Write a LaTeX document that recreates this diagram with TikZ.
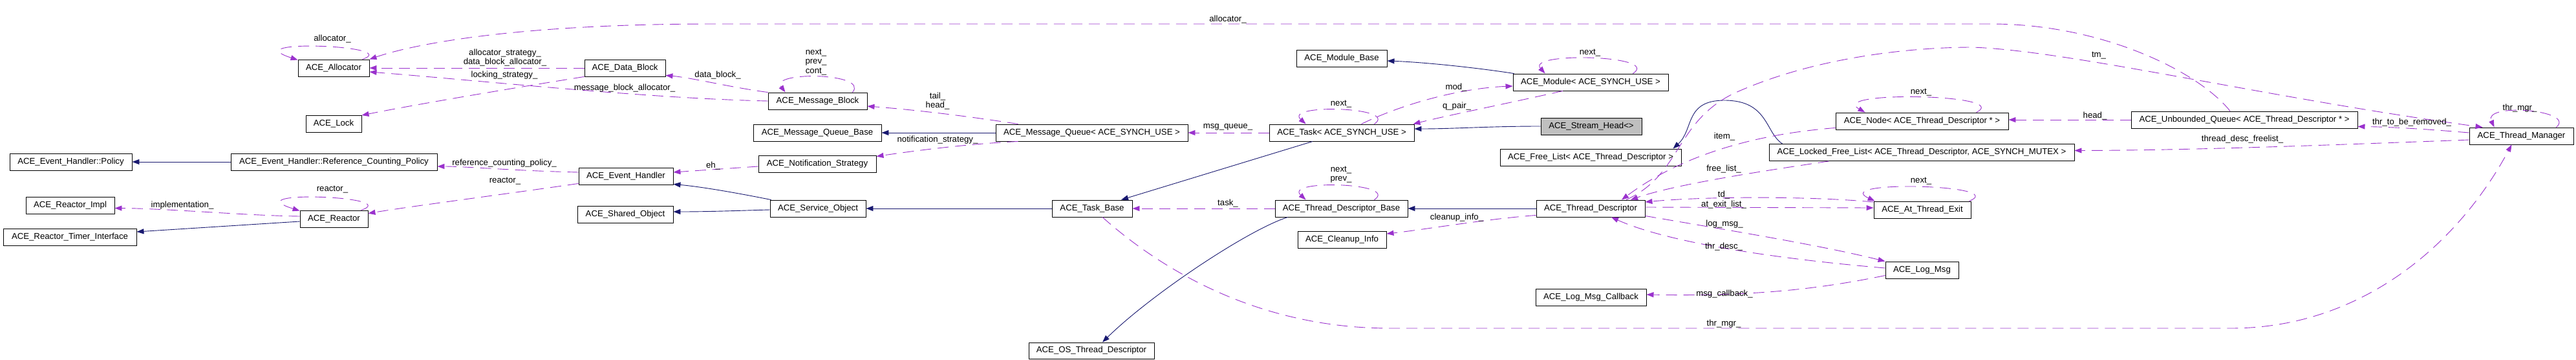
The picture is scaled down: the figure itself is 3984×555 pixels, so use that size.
\documentclass[tikz,border=0pt]{standalone}
\usepackage{fontspec}
\setmainfont{Liberation Sans}
\usetikzlibrary{arrows.meta,calc}
\definecolor{inhcol}{HTML}{191970}
\definecolor{usecol}{HTML}{9A32CD}
\definecolor{hlcol}{HTML}{BFBFBF}
\newcommand{\dfont}{\fontsize{13.2}{14.5}\selectfont}
\begin{document}
\begin{tikzpicture}[x=1pt,y=-1pt,
  box/.style={draw=black, line width=0.9pt, minimum height=26pt, inner sep=0pt, font=\dfont, fill=white},
  lbl/.style={inner sep=0pt, font=\dfont, align=center},
  inhe/.style={draw=inhcol, line width=0.9pt, -{Triangle[length=11pt,width=8pt]}},
  usee/.style={draw=usecol, line width=0.9pt, dash pattern=on 17pt off 10pt, -{Triangle[length=11pt,width=8pt]}}]
\useasboundingbox (0,0) rectangle (3984,555);

% nodes
\node[box, minimum width=110pt] (alloc) at (516,105) {ACE\_Allocator};
\node[box, minimum width=86pt] (lock) at (516,191.5) {ACE\_Lock};
\node[box, minimum width=189pt] (policy) at (109.5,250) {ACE\_Event\_Handler::Policy};
\node[box, minimum width=319pt] (rcp) at (516.5,250) {ACE\_Event\_Handler::Reference\_Counting\_Policy};
\node[box, minimum width=137pt] (rimpl) at (108.5,317.5) {ACE\_Reactor\_Impl};
\node[box, minimum width=206pt] (rti) at (108,366) {ACE\_Reactor\_Timer\_Interface};
\node[box, minimum width=105pt] (reactor) at (516.5,338) {ACE\_Reactor};
\node[box, minimum width=125pt] (dblock) at (966.5,105) {ACE\_Data\_Block};
\node[box, minimum width=146pt] (eh) at (968,272) {ACE\_Event\_Handler};
\node[box, minimum width=148pt] (sho) at (967,331) {ACE\_Shared\_Object};
\node[box, minimum width=153pt] (mblock) at (1264.5,156) {ACE\_Message\_Block};
\node[box, minimum width=198pt] (mqb) at (1264,205) {ACE\_Message\_Queue\_Base};
\node[box, minimum width=182pt] (ns) at (1264,253) {ACE\_Notification\_Strategy};
\node[box, minimum width=148pt] (so) at (1265,322) {ACE\_Service\_Object};
\node[box, minimum width=297pt] (mq) at (1688.5,205) {ACE\_Message\_Queue< ACE\_SYNCH\_USE >};
\node[box, minimum width=124pt] (tb) at (1689,322) {ACE\_Task\_Base};
\node[box, minimum width=194pt, minimum height=25pt] (ostd) at (1688,541.5) {ACE\_OS\_Thread\_Descriptor};
\node[box, minimum width=140pt] (modbase) at (2075,90) {ACE\_Module\_Base};
\node[box, minimum width=224pt] (task) at (2075,205) {ACE\_Task< ACE\_SYNCH\_USE >};
\node[box, minimum width=205pt] (tdb) at (2074.5,322) {ACE\_Thread\_Descriptor\_Base};
\node[box, minimum width=137pt] (ci) at (2075.5,370) {ACE\_Cleanup\_Info};
\node[box, minimum width=240pt] (module) at (2460,127) {ACE\_Module< ACE\_SYNCH\_USE >};
\node[box, minimum width=156pt, fill=hlcol] (sh) at (2461,195) {ACE\_Stream\_Head<>};
\node[box, minimum width=280pt] (fl) at (2460,243) {ACE\_Free\_List< ACE\_Thread\_Descriptor >};
\node[box, minimum width=168pt] (td) at (2460,322) {ACE\_Thread\_Descriptor};
\node[box, minimum width=171pt] (lmc) at (2460.5,459) {ACE\_Log\_Msg\_Callback};
\node[box, minimum width=267pt] (nodetd) at (2972.5,187) {ACE\_Node< ACE\_Thread\_Descriptor * >};
\node[box, minimum width=472pt] (lfl) at (2972,235.5) {ACE\_Locked\_Free\_List< ACE\_Thread\_Descriptor, ACE\_SYNCH\_MUTEX >};
\node[box, minimum width=150pt] (ate) at (2973,324) {ACE\_At\_Thread\_Exit};
\node[box, minimum width=113pt] (lm) at (2972.5,417) {ACE\_Log\_Msg};
\node[box, minimum width=350pt] (uq) at (3471,185) {ACE\_Unbounded\_Queue< ACE\_Thread\_Descriptor * >};
\node[box, minimum width=161pt] (tm) at (3899.5,210) {ACE\_Thread\_Manager};

% ---------- inheritance ----------
\draw[inhe] (rcp.west) -- (policy.east);
\draw[inhe] ($(reactor.west)+(0,4)$) -- ($(rti.east)+(0,-8)$);
\draw[inhe] ($(so.north west)+(2,0)$) .. controls (1150,300) and (1090,289) .. ($(eh.south east)+(0,-1)$);
\draw[inhe] ($(so.west)+(0,2)$) .. controls (1150,325) and (1100,327) .. ($(sho.east)+(0,-4)$);
\draw[inhe] (mq.west) -- (mqb.east);
\draw[inhe] (tb.west) -- (so.east);
\draw[inhe] ($(task.south)+(-45,0)$) -- ($(tb.north)+(45,0)$);
\draw[inhe] ($(module.north west)+(2,0)$) .. controls (2280,104) and (2200,96) .. ($(modbase.east)+(0,4)$);
\draw[inhe] (sh.west) .. controls (2300,195) and (2250,199) .. ($(task.east)+(0,-6)$);
\draw[inhe] (td.west) -- (tdb.east);
\draw[inhe] ($(tdb.south west)+(20,0)$) .. controls (1930,355) and (1780,455) .. ($(ostd.north)+(17,0)$);
\draw[inhe] ($(lfl.north west)+(21,0)$) .. controls (2730,205) and (2735,155) .. (2667,155) .. controls (2605,155) and (2620,200) .. ($(fl.north east)+(-13,0)$);

% ---------- usage ----------
\draw[usee] ($(alloc.north east)+(-11,0)$) .. controls (625,70) and (360,60) .. ($(alloc.north west)+(0,1)$);
\draw[usee] ($(uq.north)+(-22,0)$) .. controls (3400,110) and (3250,37) .. (3080,37) -- (1100,37) .. controls (800,37) and (640,68) .. (alloc.north east);
\draw[usee] (dblock.west) -- (alloc.east);
\draw[usee] (dblock.south west) .. controls (800,135) and (650,160) .. (lock.north east);
\draw[usee] (mblock.west) .. controls (1000,152) and (750,125) .. ($(alloc.east)+(0,6)$);
\draw[usee] (mblock.north west) .. controls (1130,135) and (1070,120) .. ($(dblock.south east)+(0,-2)$);
\draw[usee] ($(mblock.north east)+(-23,0)$) .. controls (1345,112) and (1190,110) .. ($(mblock.north west)+(27,0)$);
\draw[usee] ($(mq.north west)+(35,0)$) .. controls (1500,180) and (1420,170) .. ($(mblock.east)+(0,8)$);
\draw[usee] ($(mq.south west)+(35,0)$) .. controls (1500,222) and (1420,232) .. ($(ns.north east)+(0,2)$);
\draw[usee] ($(ns.west)+(0,4)$) -- ($(eh.east)+(0,-6)$);
\draw[usee] ($(eh.west)+(0,-6)$) .. controls (800,264) and (720,257) .. ($(rcp.east)+(0,7)$);
\draw[usee] ($(eh.south west)+(0,-2)$) .. controls (780,300) and (640,318) .. ($(reactor.north east)+(0,5)$);
\draw[usee] ($(reactor.north east)+(-11,0)$) .. controls (625,303) and (360,293) .. ($(reactor.north west)+(0,1)$);
\draw[usee] ($(reactor.west)+(0,-4)$) .. controls (380,333) and (260,322) .. ($(rimpl.east)+(0,4)$);
\draw[usee] (task.west) -- (mq.east);
\draw[usee] ($(task.north east)+(-62,0)$) .. controls (2165,165) and (1985,160) .. ($(task.north west)+(57,0)$);
\draw[usee] ($(task.north east)+(-82,0)$) .. controls (2170,160) and (2260,136) .. ($(module.west)+(0,6)$);
\draw[usee] ($(module.south)+(-43,0)$) .. controls (2330,160) and (2240,178) .. ($(task.north east)+(-2,0)$);
\draw[usee] ($(module.north east)+(-55,0)$) .. controls (2570,85) and (2360,80) .. ($(module.north west)+(50,0)$);
\draw[usee] (tdb.west) -- (tb.east);
\draw[usee] ($(tdb.north east)+(-52,0)$) .. controls (2165,282) and (1985,277) .. ($(tdb.north west)+(48,0)$);
\draw[usee] ($(td.south west)+(0,-3)$) .. controls (2300,338) and (2200,355) .. ($(ci.east)+(0,-9)$);
\draw[usee] ($(tb.south)+(16,0)$) .. controls (1800,420) and (1950,507) .. (2150,507) -- (3450,507) .. controls (3650,507) and (3800,380) .. ($(tm.south)+(-15,0)$);
\draw[usee] ($(tm.north east)+(-27,0)$) .. controls (3985,170) and (3840,158) .. ($(tm.north west)+(39,0)$);
\draw[usee] ($(td.north)+(55,0)$) .. controls (2600,270) and (2590,190) .. (2680,145) .. controls (2800,90) and (2950,73) .. (3050,73) .. controls (3200,78) and (3500,150) .. ($(tm.north west)+(21,0)$);
\draw[usee] ($(nodetd.south west)+(0,-3)$) .. controls (2680,210) and (2580,255) .. ($(td.north)+(48,0)$);
\draw[usee] ($(lfl.south west)+(93,0)$) .. controls (2720,265) and (2590,285) .. ($(td.north)+(62,0)$);
\draw[usee] ($(ate.west)+(0,-12)$) .. controls (2800,303) and (2640,303) .. ($(td.east)+(0,-10)$);
\draw[usee] ($(td.east)+(0,-2)$) -- ($(ate.west)+(0,-3)$);
\draw[usee] ($(ate.north east)+(-3,0)$) .. controls (3110,285) and (2830,278) .. ($(ate.north west)+(2,0)$);
\draw[usee] ($(td.south east)+(0,-2)$) .. controls (2700,360) and (2820,380) .. (lm.north west);
\draw[usee] ($(lm.west)+(0,-3)$) .. controls (2750,400) and (2580,375) .. ($(td.south)+(32,0)$);
\draw[usee] ($(lm.south west)+(0,-5)$) .. controls (2820,445) and (2720,458) .. ($(lmc.east)+(0,-4)$);
\draw[usee] (uq.west) -- ($(nodetd.east)+(0,-2)$);
\draw[usee] ($(nodetd.north east)+(-50,0)$) .. controls (3115,145) and (2825,140) .. ($(nodetd.north west)+(46,0)$);
\draw[usee] ($(tm.west)+(0,-5)$) .. controls (3760,200) and (3700,196) .. ($(uq.south east)+(0,-3)$);
\draw[usee] ($(tm.west)+(0,6)$) .. controls (3600,224) and (3400,232) .. ($(lfl.east)+(0,-3)$);

% ---------- labels ----------
\node[lbl] (l1) at (514,60) {allocator\_};
\node[lbl] (l2) at (1899,30) {allocator\_};
\node[lbl] (l3) at (781,89) {allocator\_strategy\_\\data\_block\_allocator\_};
\node[lbl] (l4) at (780,116) {locking\_strategy\_};
\node[lbl] (l5) at (966,136) {message\_block\_allocator\_};
\node[lbl] (l6) at (1110,116) {data\_block\_};
\node[lbl] (l7) at (1262,96) {next\_\\prev\_\\cont\_};
\node[lbl] (l8) at (1450,156) {tail\_\\head\_};
\node[lbl] (l9) at (1450,216) {notification\_strategy\_};
\node[lbl] (l10) at (1103,256) {eh\_};
\node[lbl] (l11) at (780,252) {reference\_counting\_policy\_};
\node[lbl] (l12) at (781,280) {reactor\_};
\node[lbl] (l13) at (514,293) {reactor\_};
\node[lbl] (l14) at (282,317) {implementation\_};
\node[lbl] (l15) at (1899,196) {msg\_queue\_};
\node[lbl] (l16) at (2074,161) {next\_};
\node[lbl] (l17) at (2252,135) {mod\_};
\node[lbl] (l18) at (2253,164) {q\_pair\_};
\node[lbl] (l19) at (2459,82) {next\_};
\node[lbl] (l20) at (1899,314) {task\_};
\node[lbl] (l21) at (2074,269.5) {next\_\\prev\_};
\node[lbl] (l22) at (2253,336) {cleanup\_info\_};
\node[lbl] (l23) at (2666,500) {thr\_mgr\_};
\node[lbl] (l24) at (3897,167) {thr\_mgr\_};
\node[lbl] (l25) at (3246,86) {tm\_};
\node[lbl] (l26) at (2667,211) {item\_};
\node[lbl] (l27) at (2666,261) {free\_list\_};
\node[lbl] (l28) at (2666,308.5) {td\_\\at\_exit\_list\_};
\node[lbl] (l29) at (2971,280) {next\_};
\node[lbl] (l30) at (2667,346) {log\_msg\_};
\node[lbl] (l31) at (2666,381) {thr\_desc\_};
\node[lbl] (l32) at (2667,454) {msg\_callback\_};
\node[lbl] (l33) at (3240,179) {head\_};
\node[lbl] (l34) at (2971,143) {next\_};
\node[lbl] (l35) at (3730,189) {thr\_to\_be\_removed\_};
\node[lbl] (l36) at (3468,215) {thread\_desc\_freelist\_};
\end{tikzpicture}
\end{document}
